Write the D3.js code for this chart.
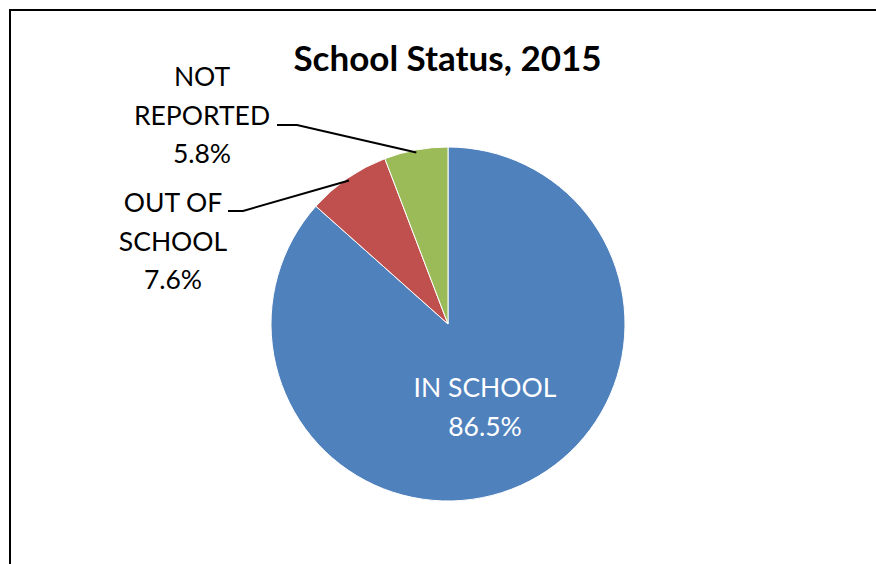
<!DOCTYPE html>
<html>
<head>
<meta charset="utf-8">
<script src="https://cdn.jsdelivr.net/npm/d3@7"></script>
<style>
  body { margin: 0; background: #fff; }
  svg { display: block; font-family: Lato, "Open Sans", sans-serif; }
</style>
</head>
<body>
<div id="chart"></div>
<script>
// data
const categories = ["IN SCHOOL", "OUT OF SCHOOL", "NOT REPORTED"];
const values = [86.5, 7.6, 5.8];
const colors = ["#4F81BD", "#C0504D", "#9BBB59"];
const labelLines = [["IN SCHOOL"], ["OUT OF", "SCHOOL"], ["NOT", "REPORTED"]];

const width = 876, height = 564;
const cx = 448, cy = 324, radius = 177;

const svg = d3.select("#chart")
  .append("svg")
  .attr("width", width)
  .attr("height", height);

// chart frame (goes past the right and bottom edges)
svg.append("rect")
  .attr("x", 10)
  .attr("y", 10)
  .attr("width", 900)
  .attr("height", 600)
  .attr("fill", "none")
  .attr("stroke", "#000")
  .attr("stroke-width", 2);

svg.append("text")
  .attr("x", 447.5)
  .attr("y", 71)
  .attr("text-anchor", "middle")
  .style("font-size", "35px")
  .style("font-weight", "bold")
  .text("School Status, 2015");

const pie = d3.pie().sort(null).value(d => d);
const arcs = pie(values);
const arc = d3.arc().innerRadius(0).outerRadius(radius);

const g = svg.append("g").attr("transform", "translate(" + cx + "," + cy + ")");

g.selectAll(".slice")
  .data(arcs)
  .enter()
  .append("path")
  .attr("class", "slice")
  .attr("d", arc)
  .attr("fill", (d, i) => colors[i])
  .attr("stroke", "#fff")
  .attr("stroke-width", 1);

// label placement (in page coordinates): centre x, first baseline y
const labelPos = [
  { x: 485, y: 397, inside: true },
  { x: 173, y: 212, anchorX: 228, anchorY: 211, elbow: 243 },
  { x: 202, y: 86, anchorX: 277, anchorY: 125, elbow: 297 }
];
const lineH = 38.5;

arcs.forEach((d, i) => {
  const p = labelPos[i];
  const lines = labelLines[i].concat([d3.format(".1f")(values[i]) + "%"]);
  const t = svg.append("text")
    .attr("text-anchor", "middle")
    .style("font-size", "26.5px")
    .attr("fill", p.inside ? "#fff" : "#000");
  lines.forEach((s, j) => {
    t.append("tspan").attr("x", p.x).attr("y", p.y + j * lineH).text(s);
  });
  if (!p.inside) {
    const mid = (d.startAngle + d.endAngle) / 2;
    const ex = cx + Math.sin(mid) * radius * 0.985;
    const ey = cy - Math.cos(mid) * radius * 0.985;
    svg.append("polyline")
      .attr("points", [[p.anchorX, p.anchorY], [p.elbow, p.anchorY], [ex, ey]].map(q => q.join(",")).join(" "))
      .attr("fill", "none")
      .attr("stroke", "#000")
      .attr("stroke-width", 2);
  }
});
</script>
</body>
</html>
